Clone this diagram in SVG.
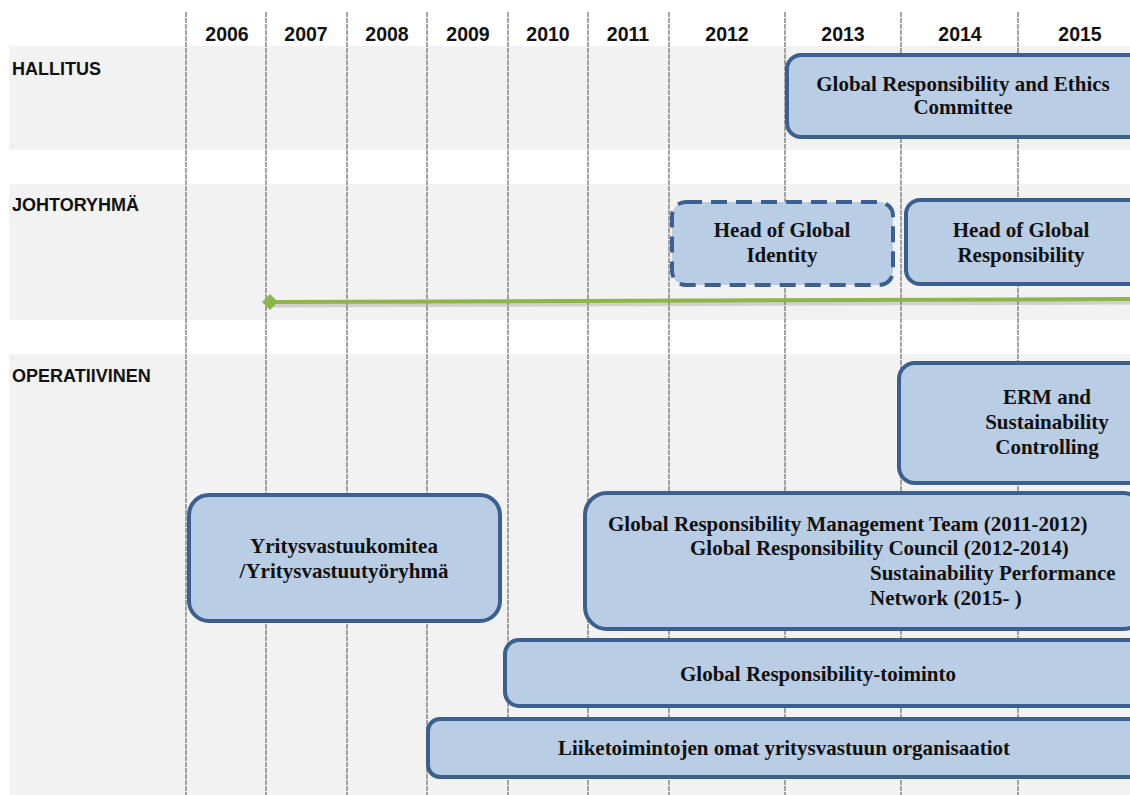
<svg xmlns="http://www.w3.org/2000/svg" width="1130" height="795" viewBox="0 0 1130 795">
<defs>
<style>
.band{fill:#f2f2f2}
.vl{stroke:#7f7f7f;stroke-width:1.4;stroke-dasharray:5 1}
.yr{font-family:"Liberation Sans",Arial,sans-serif;font-weight:bold;font-size:19.5px;fill:#111;text-anchor:middle}
.lvl{font-family:"Liberation Sans",Arial,sans-serif;font-weight:bold;font-size:18px;fill:#111}
.box{fill:#b9cde5;stroke:#3b6090;stroke-width:4}
.dash{fill:#b9cde5;stroke:#3b6090;stroke-width:4;stroke-dasharray:16 9}
.t{font-family:"Liberation Serif","Times New Roman",serif;font-weight:bold;font-size:21px;fill:#111;text-anchor:middle}
.tl{font-family:"Liberation Serif","Times New Roman",serif;font-weight:bold;font-size:21px;fill:#111}
</style>
<marker id="dia" viewBox="0 0 10 10" refX="5" refY="5" markerWidth="4" markerHeight="4" orient="auto"><path d="M0,5 L5,0 L10,5 L5,10 Z" fill="#8cb54a"/></marker>
</defs>
<rect width="1130" height="795" fill="#ffffff"/>
<g id="bands">
<rect class="band" x="9" y="46" width="1121" height="104"/>
<rect class="band" x="9" y="184" width="1121" height="136"/>
<rect class="band" x="9" y="354" width="1121" height="441"/>
</g>
<g id="gridlines">
<line class="vl" x1="186" y1="12" x2="186" y2="795"/>
<line class="vl" x1="266" y1="12" x2="266" y2="795"/>
<line class="vl" x1="347" y1="12" x2="347" y2="795"/>
<line class="vl" x1="427" y1="12" x2="427" y2="795"/>
<line class="vl" x1="508" y1="12" x2="508" y2="795"/>
<line class="vl" x1="588" y1="12" x2="588" y2="795"/>
<line class="vl" x1="669" y1="12" x2="669" y2="795"/>
<line class="vl" x1="785" y1="12" x2="785" y2="795"/>
<line class="vl" x1="901" y1="12" x2="901" y2="795"/>
<line class="vl" x1="1018" y1="12" x2="1018" y2="795"/>
</g>
<g id="years">
<text class="yr" x="227" y="41">2006</text>
<text class="yr" x="306" y="41">2007</text>
<text class="yr" x="387" y="41">2008</text>
<text class="yr" x="468" y="41">2009</text>
<text class="yr" x="548" y="41">2010</text>
<text class="yr" x="628" y="41">2011</text>
<text class="yr" x="727" y="41">2012</text>
<text class="yr" x="843" y="41">2013</text>
<text class="yr" x="960" y="41">2014</text>
<text class="yr" x="1080" y="41">2015</text>
</g>
<g id="levels">
<text class="lvl" x="12" y="75">HALLITUS</text>
<text class="lvl" x="12" y="211">JOHTORYHMÄ</text>
<text class="lvl" x="12" y="382">OPERATIIVINEN</text>
</g>
<g id="connectors">
<line x1="270" y1="305" x2="1130" y2="302" stroke="#6b6b6b" stroke-opacity="0.25" stroke-width="5"/>
<line x1="270" y1="302" x2="1130" y2="299" stroke="#8cb54a" stroke-width="4" marker-start="url(#dia)"/>
</g>
<g id="n-ethics">
<rect class="box" x="787" y="55" width="360" height="82" rx="14"/>
<text class="t" x="963" y="91">Global Responsibility and Ethics</text>
<text class="t" x="963" y="114">Committee</text>
</g>
<g id="n-identity">
<rect class="dash" x="672" y="202" width="221" height="83" rx="14"/>
<text class="t" x="782" y="237">Head of Global</text>
<text class="t" x="782" y="262">Identity</text>
</g>
<g id="n-responsibility">
<rect class="box" x="906" y="200" width="240" height="84" rx="14"/>
<text class="t" x="1021" y="237">Head of Global</text>
<text class="t" x="1021" y="262">Responsibility</text>
</g>
<g id="n-erm">
<rect class="box" x="899" y="363" width="250" height="120" rx="16"/>
<text class="t" x="1047" y="404">ERM and</text>
<text class="t" x="1047" y="429">Sustainability</text>
<text class="t" x="1047" y="454">Controlling</text>
</g>
<g id="n-komitea">
<rect class="box" x="189" y="495" width="311" height="126" rx="20"/>
<text class="t" x="344" y="553">Yritysvastuukomitea</text>
<text class="t" x="344" y="578">/Yritysvastuutyöryhmä</text>
</g>
<g id="n-grmt">
<rect class="box" x="585" y="493" width="560" height="136" rx="22"/>
<text class="tl" x="608" y="531">Global Responsibility Management Team (2011-2012)</text>
<text class="tl" x="690" y="555">Global Responsibility Council (2012-2014)</text>
<text class="tl" x="870" y="580">Sustainability Performance</text>
<text class="tl" x="870" y="605">Network (2015- )</text>
</g>
<g id="n-toiminto">
<rect class="box" x="505" y="640" width="640" height="66" rx="14"/>
<text class="t" x="818" y="681">Global Responsibility-toiminto</text>
</g>
<g id="n-liiketoiminnot">
<rect class="box" x="428" y="719" width="720" height="58" rx="12"/>
<text class="t" x="784" y="755">Liiketoimintojen omat yritysvastuun organisaatiot</text>
</g>
</svg>
